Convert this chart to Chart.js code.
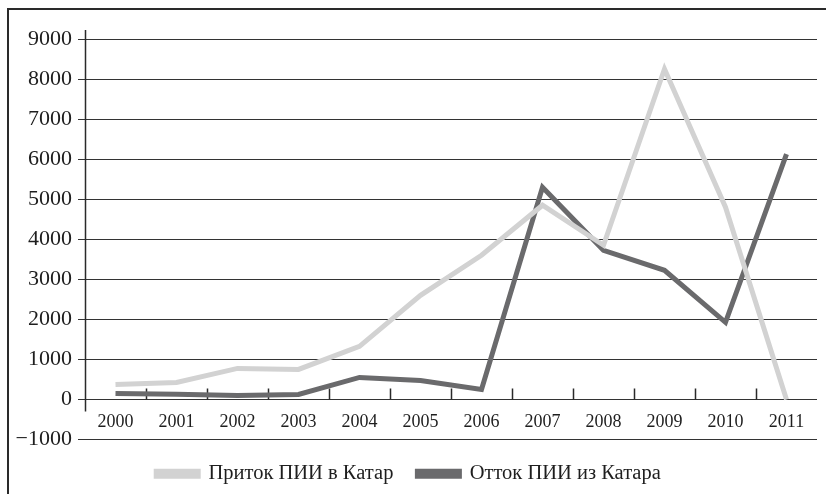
<!DOCTYPE html>
<html>
<head>
<meta charset="utf-8">
<script src="https://cdn.jsdelivr.net/npm/chart.js@4.4.1/dist/chart.umd.min.js"></script>
<style>
  body { margin: 0; background: #fff; }
  #wrap { position: relative; width: 826px; height: 494px; overflow: hidden; }
  #frame { position: absolute; left: 7px; top: 8px; width: 840px; height: 500px;
           border-top: 2px solid #2a2a2a; border-left: 2px solid #2a2a2a; pointer-events: none; }
  canvas { position: absolute; left: 0; top: 0; }
</style>
</head>
<body>
<div id="wrap">
  <canvas id="fdiChart" width="826" height="494"></canvas>
  <div id="frame"></div>
</div>
<script>
const years = ['2000', '2001', '2002', '2003', '2004', '2005', '2006', '2007', '2008', '2009', '2010', '2011'];
// млн долл.
const inflow = [375, 425, 775, 750, 1325, 2600, 3600, 4850, 3850, 8250, 4800, 0];
const outflow = [150, 130, 100, 125, 550, 475, 250, 5300, 3725, 3225, 1925, 6125];
const seriesNames = ['Приток ПИИ в Катар', 'Отток ПИИ из Катара'];
const yMin = -1000, yMax = 9000, yStep = 1000;

const serif = "'Liberation Serif', 'DejaVu Serif', serif";

// short category ticks above the zero line + the y axis stroke
const axisMarks = {
    id: 'axisMarks',
    beforeDatasetsDraw(chart) {
        const ctx = chart.ctx;
        const xs = chart.scales.x, ys = chart.scales.y;
        const y0 = ys.getPixelForValue(0);
        ctx.save();
        ctx.strokeStyle = '#2a2a2a';
        ctx.lineWidth = 1.5;
        ctx.beginPath();
        for (let i = 0; i < years.length - 1; i++) {
            const x = Math.round((xs.getPixelForValue(i) + xs.getPixelForValue(i + 1)) / 2) + 0.5;
            ctx.moveTo(x, y0 - 11);
            ctx.lineTo(x, y0);
        }
        const left = chart.chartArea.left + 0.5;
        ctx.moveTo(left, ys.getPixelForValue(yMax) - 9);
        ctx.lineTo(left, y0 + 12);
        ctx.stroke();
        ctx.restore();
    }
};

new Chart(document.getElementById('fdiChart'), {
    type: 'line',
    data: {
        labels: years,
        datasets: [{
            label: seriesNames[0],
            data: inflow,
            borderColor: '#d2d2d2',
            backgroundColor: '#d2d2d2',
            borderWidth: 5
        }, {
            label: seriesNames[1],
            data: outflow,
            borderColor: '#6a6a6c',
            backgroundColor: '#6a6a6c',
            borderWidth: 5
        }]
    },
    options: {
        responsive: false,
        animation: false,
        layout: { padding: { top: 39, right: 9, left: 0, bottom: 0 } },
        elements: {
            line: { tension: 0, borderJoinStyle: 'miter' },
            point: { radius: 0 }
        },
        plugins: {
            tooltip: { enabled: false },
            legend: {
                position: 'bottom',
                labels: {
                    boxWidth: 42,
                    boxHeight: 5,
                    padding: 24,
                    color: '#1e1e1e',
                    font: { family: serif, size: 20.5 }
                }
            }
        },
        scales: {
            x: {
                position: { y: 0 },
                offset: true,
                grid: { display: false },
                border: { display: false },
                ticks: {
                    color: '#1e1e1e',
                    padding: 4,
                    maxRotation: 0,
                    font: { family: serif, size: 18 }
                }
            },
            y: {
                min: yMin,
                max: yMax,
                afterFit(scale) { scale.width = 85; },
                border: { display: false },
                grid: { color: '#333', lineWidth: 1, tickLength: 7 },
                ticks: {
                    stepSize: yStep,
                    padding: 6,
                    color: '#1e1e1e',
                    font: { family: serif, size: 22 },
                    callback: v => v < 0 ? '\u2212' + Math.abs(v) : String(v)
                }
            }
        }
    },
    plugins: [axisMarks]
});
</script>
</body>
</html>
